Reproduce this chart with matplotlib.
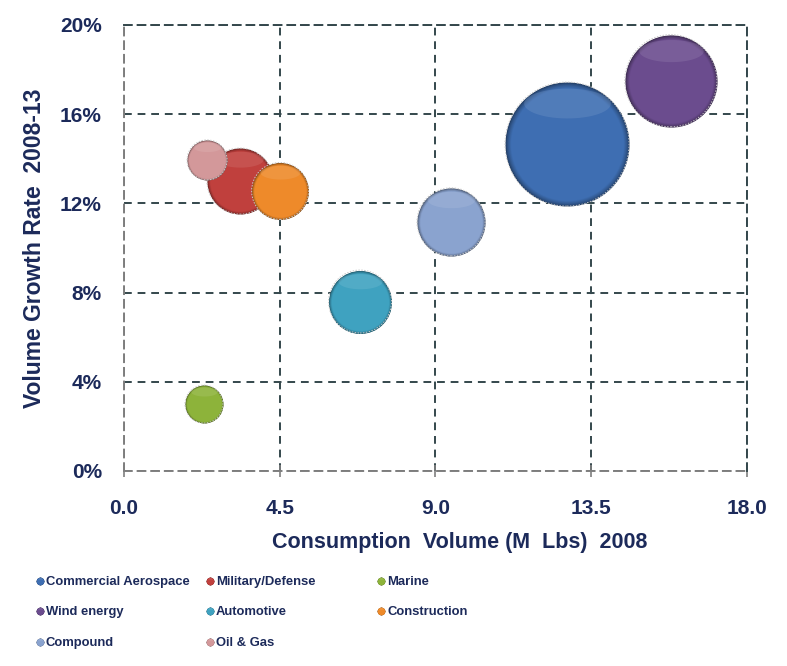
import numpy as np
import matplotlib
matplotlib.use("Agg")
import matplotlib.pyplot as plt
from matplotlib.colors import to_rgb
from matplotlib.path import Path
from matplotlib.markers import MarkerStyle
from matplotlib.ticker import PercentFormatter

# ---------------- data ----------------
segments = ["Commercial Aerospace", "Military/Defense", "Marine", "Wind energy",
            "Automotive", "Construction", "Compound", "Oil & Gas"]
volume_2008 = [12.8, 3.35, 2.31, 15.8, 6.82, 4.51, 9.45, 2.40]        # M Lbs
growth_rate = [14.66, 13.0, 3.0, 17.5, 7.6, 12.56, 11.17, 13.95]      # % 2008-13
bubble_size = [3.84, 1.09, 0.36, 2.12, 0.99, 0.81, 1.16, 0.40]        # relative size
colors = ["#3E6EB2", "#C0403D", "#8DB33A", "#6B4C8E",
          "#3FA2C0", "#EE8A2A", "#8AA3CF", "#D3989A"]
x_ticks = [0.0, 4.5, 9.0, 13.5, 18.0]
y_ticks = [0, 4, 8, 12, 16, 20]

NAVY = "#1C2A5A"
plt.rcParams["font.family"] = ["Liberation Sans", "DejaVu Sans"]

fig = plt.figure(figsize=(7.87, 6.66), dpi=100)
ax = fig.add_axes([124/787, 1-471/666, (747-124)/787, (471-25)/666])

K = 2077.0

# highlight marker: cap-shaped band in the upper part of the unit circle
th = np.linspace(0, 2*np.pi, 60)
hv = np.column_stack([0.70*np.cos(th), 0.66 + 0.24*np.sin(th)])
verts = np.vstack([[[1, 0]], [[-1, 0]], [[0, -1]], hv])
codes = [Path.MOVETO, Path.MOVETO, Path.MOVETO, Path.MOVETO] + [Path.LINETO]*(len(hv)-2) + [Path.CLOSEPOLY]
hl_marker = MarkerStyle(Path(verts, codes))


def sphere(axis, x, y, s, color, z, edge=True):
    base = np.array(to_rgb(color))
    dark = base * 0.55
    light = base + (1 - base) * 0.35
    n = 10
    for i in range(n):
        f = 1 - 0.09 * i / (n - 1)
        t = (i / (n - 1)) ** 0.7
        c = dark * (1 - t) + base * t
        axis.scatter([x], [y], s=s * f**2, color=c, lw=0, zorder=z)
    axis.scatter([x], [y], s=s, marker=hl_marker, color=light, alpha=0.28, lw=0, zorder=z)
    if edge:
        axis.scatter([x], [y], s=s, facecolor="none", edgecolor="#c8c8c8",
                     lw=0.7, linestyle=(0, (1.5, 1.5)), zorder=z)


for i in range(len(segments)):
    sphere(ax, volume_2008[i], growth_rate[i], bubble_size[i] * K, colors[i], 3 + i)

ax.set_xlim(0, 18)
ax.set_ylim(0, 20)
ax.set_xticks(x_ticks)
ax.set_xticklabels([f"{v:.1f}" for v in x_ticks])
ax.set_yticks(y_ticks)
ax.yaxis.set_major_formatter(PercentFormatter(decimals=0))

grid_c = "#34474C"
ax.grid(True, color=grid_c, lw=1.4, linestyle=(0, (4, 3)))
ax.set_axisbelow(True)
for side in ["top", "right"]:
    ax.spines[side].set_color(grid_c)
    ax.spines[side].set_linestyle((0, (4, 3)))
    ax.spines[side].set_linewidth(1.4)
for side in ["bottom", "left"]:
    ax.spines[side].set_color("#7F7F7F")
    ax.spines[side].set_linestyle((0, (4, 3)))
    ax.spines[side].set_linewidth(1.4)

ax.tick_params(axis="x", direction="inout", length=9, width=1.2, color="#7F7F7F",
               pad=16, labelsize=15, labelcolor=NAVY)
ax.tick_params(axis="y", length=0, pad=16, labelsize=15, labelcolor=NAVY)
for lab in ax.get_xticklabels() + ax.get_yticklabels():
    lab.set_fontweight("bold")

ax.set_xlabel("Consumption  Volume (M  Lbs)  2008", fontsize=15.5, fontweight="bold",
              color=NAVY)
ax.xaxis.set_label_coords((460 - 124) / 623, -(532 - 471) / 446)
ax.set_ylabel("Volume Growth Rate  2008-13", fontsize=16.5, fontweight="bold",
              color=NAVY)
ax.yaxis.set_label_coords(-(124 - 46) / 623, 0.5)

# ---------------- legend ----------------
lax = fig.add_axes([0, 0, 1, 1], zorder=10)
lax.set_xlim(0, 787)
lax.set_ylim(666, 0)
lax.axis("off")
col_x = [40, 210, 381]
row_y = [581, 611, 642]
for i, name in enumerate(segments):
    r, c = divmod(i, 3)
    sphere(lax, col_x[c], row_y[r], 30, colors[i], 1, edge=False)
    lax.text(col_x[c] + 6, row_y[r] + 1, name, fontsize=9.4, fontweight="bold",
             color=NAVY, va="center", ha="left")

fig.savefig("out.png", dpi=100)
